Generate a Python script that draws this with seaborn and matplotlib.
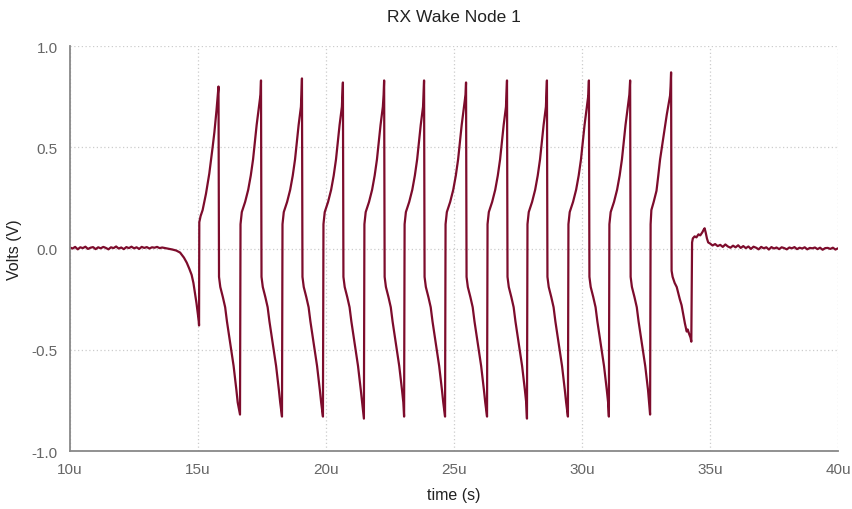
import matplotlib
matplotlib.use("Agg")
import matplotlib.pyplot as plt
import seaborn as sns
import pandas as pd
from matplotlib.ticker import FuncFormatter

# ---- data (time in microseconds, volts) ----
pre_t = [10.0, 10.1, 10.2, 10.3, 10.4, 10.5, 10.6, 10.7, 10.8, 10.9, 11.0, 11.1, 11.2, 11.3,
         11.4, 11.5, 11.6, 11.7, 11.8, 11.9, 12.0, 12.1, 12.2, 12.3, 12.4, 12.5, 12.6, 12.7,
         12.8, 12.9, 13.0, 13.1, 13.2, 13.3, 13.4, 13.5, 13.6, 13.8, 14.0, 14.15, 14.30,
         14.45, 14.56, 14.66, 14.75, 14.82, 14.88, 14.94, 14.99, 15.03, 15.04]
pre_v = [0.005, 0.0, 0.008, -0.004, 0.006, 0.002, 0.009, -0.002, 0.004, 0.007, -0.003, 0.006,
         0.001, 0.008, 0.003, -0.004, 0.006, 0.002, 0.010, 0.000, 0.005, -0.003, 0.007, 0.002,
         0.009, 0.001, 0.006, -0.002, 0.008, 0.003, 0.007, 0.000, 0.006, 0.004, 0.008, 0.002,
         0.005, 0.000, -0.005, -0.010, -0.020, -0.045, -0.070, -0.100, -0.130, -0.170, -0.220,
         -0.270, -0.320, -0.360, -0.380]

burst_t = [
    15.05, 15.10, 15.18, 15.31, 15.44, 15.57, 15.64, 15.72, 15.80,
    15.82, 15.87, 15.97, 16.06, 16.13, 16.25, 16.39, 16.50, 16.55, 16.64,
    16.66, 16.71, 16.84, 16.96, 17.06, 17.15, 17.29, 17.38, 17.44, 17.46,
    17.48, 17.53, 17.63, 17.72, 17.79, 17.91, 18.05, 18.16, 18.21, 18.28,
    18.30, 18.35, 18.48, 18.60, 18.70, 18.79, 18.93, 19.02, 19.04, 19.06,
    19.08, 19.13, 19.23, 19.32, 19.39, 19.51, 19.65, 19.76, 19.81, 19.88,
    19.90, 19.95, 20.08, 20.20, 20.30, 20.39, 20.53, 20.62, 20.64, 20.66,
    20.68, 20.73, 20.83, 20.92, 20.99, 21.11, 21.25, 21.36, 21.41, 21.48,
    21.50, 21.55, 21.68, 21.80, 21.90, 21.99, 22.13, 22.22, 22.25, 22.27,
    22.29, 22.34, 22.44, 22.53, 22.60, 22.72, 22.86, 22.97, 23.02, 23.05,
    23.07, 23.12, 23.25, 23.37, 23.47, 23.56, 23.70, 23.79, 23.81, 23.83,
    23.85, 23.90, 24.00, 24.09, 24.16, 24.28, 24.42, 24.53, 24.58, 24.65,
    24.67, 24.72, 24.85, 24.97, 25.07, 25.16, 25.30, 25.39, 25.45, 25.47,
    25.49, 25.54, 25.64, 25.73, 25.80, 25.92, 26.06, 26.17, 26.22, 26.29,
    26.31, 26.36, 26.49, 26.61, 26.71, 26.80, 26.94, 27.03, 27.05, 27.07,
    27.09, 27.14, 27.24, 27.33, 27.40, 27.52, 27.66, 27.77, 27.82, 27.85,
    27.87, 27.92, 28.05, 28.17, 28.27, 28.36, 28.50, 28.59, 28.61, 28.63,
    28.65, 28.70, 28.80, 28.89, 28.96, 29.08, 29.22, 29.33, 29.38, 29.45,
    29.47, 29.52, 29.65, 29.77, 29.87, 29.96, 30.10, 30.19, 30.25, 30.27,
    30.29, 30.34, 30.44, 30.53, 30.60, 30.72, 30.86, 30.97, 31.02, 31.05,
    31.07, 31.12, 31.25, 31.37, 31.47, 31.56, 31.70, 31.79, 31.85, 31.88,
    31.90, 31.95, 32.05, 32.14, 32.21, 32.33, 32.47, 32.58, 32.62, 32.66,
    32.68, 32.71, 32.80, 32.91, 32.98, 33.05, 33.18, 33.31, 33.44, 33.46, 33.48,
    33.50, 33.54, 33.62, 33.70, 33.76, 33.82, 33.89, 33.96, 34.02, 34.09, 34.13,
    34.18, 34.24, 34.27,
    34.30, 34.33, 34.40, 34.47, 34.55, 34.62, 34.70, 34.74, 34.79, 34.83, 34.88, 34.93]
burst_v = [
    0.13, 0.16, 0.19, 0.27, 0.37, 0.50, 0.575, 0.68, 0.80,
    -0.14, -0.19, -0.24, -0.29, -0.36, -0.46, -0.58, -0.70, -0.76, -0.82,
    0.12, 0.18, 0.23, 0.29, 0.36, 0.44, 0.61, 0.70, 0.76, 0.83,
    -0.14, -0.19, -0.24, -0.29, -0.36, -0.46, -0.58, -0.70, -0.76, -0.83,
    0.12, 0.18, 0.23, 0.29, 0.36, 0.44, 0.61, 0.70, 0.76, 0.84,
    -0.14, -0.19, -0.24, -0.29, -0.36, -0.46, -0.58, -0.70, -0.76, -0.83,
    0.12, 0.18, 0.23, 0.29, 0.36, 0.44, 0.61, 0.70, 0.76, 0.82,
    -0.14, -0.19, -0.24, -0.29, -0.36, -0.46, -0.58, -0.70, -0.76, -0.84,
    0.12, 0.18, 0.23, 0.29, 0.36, 0.44, 0.61, 0.70, 0.76, 0.83,
    -0.14, -0.19, -0.24, -0.29, -0.36, -0.46, -0.58, -0.70, -0.76, -0.83,
    0.12, 0.18, 0.23, 0.29, 0.36, 0.44, 0.61, 0.70, 0.76, 0.83,
    -0.14, -0.19, -0.24, -0.29, -0.36, -0.46, -0.58, -0.70, -0.76, -0.83,
    0.12, 0.18, 0.23, 0.29, 0.36, 0.44, 0.61, 0.70, 0.76, 0.82,
    -0.14, -0.19, -0.24, -0.29, -0.36, -0.46, -0.58, -0.70, -0.76, -0.83,
    0.12, 0.18, 0.23, 0.29, 0.36, 0.44, 0.61, 0.70, 0.76, 0.83,
    -0.14, -0.19, -0.24, -0.29, -0.36, -0.46, -0.58, -0.70, -0.76, -0.84,
    0.12, 0.18, 0.23, 0.29, 0.36, 0.44, 0.61, 0.70, 0.76, 0.83,
    -0.14, -0.19, -0.24, -0.29, -0.36, -0.46, -0.58, -0.70, -0.76, -0.83,
    0.12, 0.18, 0.23, 0.29, 0.36, 0.44, 0.61, 0.70, 0.76, 0.83,
    -0.14, -0.19, -0.24, -0.29, -0.36, -0.46, -0.58, -0.70, -0.76, -0.83,
    0.12, 0.18, 0.23, 0.29, 0.36, 0.44, 0.61, 0.70, 0.76, 0.83,
    -0.14, -0.19, -0.24, -0.29, -0.36, -0.46, -0.58, -0.70, -0.76, -0.82,
    0.12, 0.19, 0.23, 0.285, 0.36, 0.44, 0.55, 0.66, 0.755, 0.80, 0.87,
    -0.11, -0.14, -0.17, -0.19, -0.22, -0.25, -0.28, -0.33, -0.37, -0.41, -0.40,
    -0.42, -0.44, -0.46,
    0.03, 0.05, 0.06, 0.055, 0.07, 0.065, 0.08, 0.09, 0.10, 0.08, 0.05, 0.03]

post_t = [35.0, 35.1, 35.2, 35.3, 35.4, 35.5, 35.6, 35.7, 35.8, 35.9, 36.0, 36.1, 36.2, 36.3,
          36.4, 36.5, 36.6, 36.7, 36.8, 36.9, 37.0, 37.1, 37.2, 37.3, 37.4, 37.5, 37.6, 37.7,
          37.8, 37.9, 38.0, 38.1, 38.2, 38.3, 38.4, 38.5, 38.6, 38.7, 38.8, 38.9, 39.0, 39.1,
          39.2, 39.3, 39.4, 39.5, 39.6, 39.7, 39.8, 39.9, 40.0]
post_v = [0.025, 0.015, 0.022, 0.012, 0.018, 0.008, 0.020, 0.010, 0.004, 0.014, 0.006, 0.016,
          0.003, 0.012, 0.002, 0.010, -0.002, 0.009, 0.004, -0.004, 0.008, 0.001, 0.006, -0.005,
          0.007, 0.000, 0.005, -0.003, 0.006, 0.002, -0.004, 0.005, 0.001, 0.007, -0.003, 0.004,
          0.000, 0.006, -0.004, 0.003, 0.001, 0.005, -0.003, 0.004, -0.006, 0.002, 0.003,
          -0.002, 0.004, -0.005, 0.001]

x_ticks = [10, 15, 20, 25, 30, 35, 40]
y_ticks = [-1.0, -0.5, 0.0, 0.5, 1.0]

df = pd.DataFrame({"t": pre_t + burst_t + post_t, "v": pre_v + burst_v + post_v})

# ---- plotting ----
sns.set_style("white")
plt.rcParams["font.family"] = ["Liberation Sans", "DejaVu Sans"]

fig = plt.figure(figsize=(8.53, 5.10), dpi=100)
ax = fig.add_axes([0.0821, 0.1137, 0.9003, 0.7941])

sns.lineplot(data=df, x="t", y="v", ax=ax, color="#7d0c2c", linewidth=1.6,
             estimator=None, sort=False)

ax.set_xlim(10, 40)
ax.set_ylim(-1.0, 1.0)
ax.set_xticks(x_ticks)
ax.set_yticks(y_ticks)
ax.xaxis.set_major_formatter(FuncFormatter(lambda v, p: f"{int(v)}u"))
ax.yaxis.set_major_formatter(FuncFormatter(lambda v, p: f"{v:.1f}"))

ax.grid(True, color="#cccccc", linestyle=(0, (1, 2)), linewidth=0.9)
for s in ["top", "right"]:
    ax.spines[s].set_visible(False)
for s in ["left", "bottom"]:
    ax.spines[s].set_color("#888888")
    ax.spines[s].set_linewidth(1.3)

ax.tick_params(axis="both", direction="in", length=4, width=1, color="#888888",
               labelcolor="#666666", labelsize=11)
ax.tick_params(axis="x", pad=8)
ax.tick_params(axis="y", pad=9)

ax.set_title("RX Wake Node 1", fontsize=12.5, color="#222222", pad=18)
ax.set_xlabel("time (s)", fontsize=11.5, color="#222222", labelpad=8)
ax.set_ylabel("Volts (V)", fontsize=11.5, color="#222222", labelpad=7)

fig.savefig("out.png", dpi=100)
